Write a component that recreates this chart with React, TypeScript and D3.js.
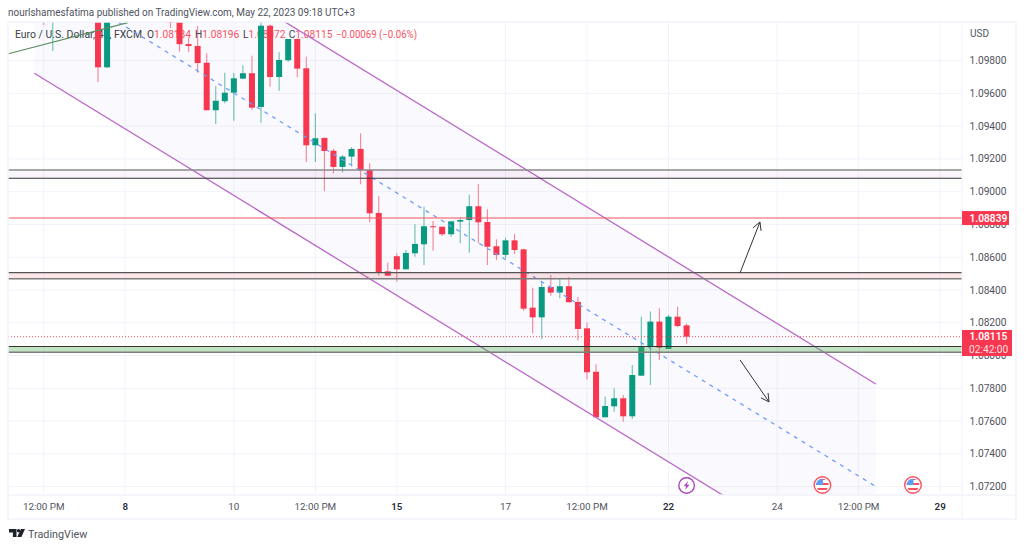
import * as d3 from "d3";

// 4h candles. Bars 2-13 sit mostly above the visible pane.
const opens = [
  1.10139, 1.10109, 1.102, 1.1031, 1.1036, 1.1028, 1.103, 1.09759, 1.1028, 1.1021, 1.1033, 1.1029,
  1.1019, 1.1026, 1.1022, 1.103, 1.09901, 1.09889, 1.09787, 1.09497, 1.09552, 1.09604, 1.0969, 1.09723,
  1.09517, 1.10013, 1.097, 1.09802, 1.09932, 1.09753, 1.09283, 1.09328, 1.0925, 1.09151, 1.09214, 1.09261,
  1.09132, 1.0887, 1.08514, 1.08606, 1.08526, 1.08624, 1.08679, 1.08789, 1.08786, 1.0874, 1.08817, 1.08827,
  1.08911, 1.08815, 1.08667, 1.08614, 1.08703, 1.08648, 1.08292, 1.08233, 1.08418, 1.08384, 1.08423, 1.08327,
  1.08166, 1.07901, 1.07623, 1.0769, 1.07739, 1.07629, 1.07877, 1.08054, 1.08207, 1.0804, 1.08237, 1.08184,
];
const highs = [
  1.1017, 1.10231, 1.1038, 1.1042, 1.1041, 1.1036, 1.1038, 1.104, 1.1039, 1.1035, 1.1044, 1.1037,
  1.103, 1.1034, 1.1031, 1.1038, 1.09938, 1.10011, 1.09845, 1.09645, 1.09726, 1.09724, 1.09771, 1.0983,
  1.10048, 1.1002, 1.09851, 1.09932, 1.09935, 1.09824, 1.09478, 1.0933, 1.09261, 1.09224, 1.09271, 1.09356,
  1.09173, 1.08974, 1.08567, 1.08624, 1.08644, 1.08801, 1.08908, 1.08821, 1.08786, 1.08821, 1.08844, 1.08982,
  1.09047, 1.08893, 1.0871, 1.08719, 1.0874, 1.08652, 1.08414, 1.08451, 1.08492, 1.08467, 1.08479, 1.08359,
  1.08201, 1.07947, 1.07749, 1.078, 1.07759, 1.07942, 1.08237, 1.08268, 1.08288, 1.08248, 1.08298, 1.08196,
];
const lows = [
  1.10017, 1.09859, 1.1012, 1.1024, 1.1022, 1.1015, 1.0967, 1.09755, 1.1017, 1.101, 1.1025, 1.1014,
  1.1009, 1.1012, 1.09999, 1.09854, 1.09853, 1.09726, 1.09497, 1.09413, 1.0954, 1.09433, 1.09686, 1.09499,
  1.09421, 1.09641, 1.09616, 1.09792, 1.09698, 1.09181, 1.09181, 1.09002, 1.09112, 1.09118, 1.09153, 1.09045,
  1.08813, 1.08487, 1.08487, 1.08451, 1.08526, 1.08603, 1.08553, 1.0864, 1.0873, 1.08725, 1.08685, 1.08628,
  1.08685, 1.08553, 1.08583, 1.08594, 1.0862, 1.08274, 1.08136, 1.08101, 1.08365, 1.08349, 1.08325, 1.08091,
  1.07853, 1.07623, 1.07623, 1.07657, 1.07596, 1.07613, 1.07877, 1.0782, 1.07973, 1.0804, 1.08174, 1.08072,
];
const closes = [
  1.10048, 1.102, 1.1031, 1.1036, 1.1028, 1.103, 1.09759, 1.1028, 1.1021, 1.1033, 1.1029, 1.1019,
  1.1026, 1.1022, 1.1003, 1.099, 1.09889, 1.09785, 1.09497, 1.09555, 1.09604, 1.09692, 1.09723, 1.09513,
  1.10013, 1.097, 1.09804, 1.09932, 1.09751, 1.09283, 1.09326, 1.09248, 1.09151, 1.09214, 1.09261, 1.09132,
  1.08868, 1.0851, 1.08487, 1.08526, 1.08626, 1.08681, 1.08789, 1.08785, 1.0874, 1.08819, 1.08827, 1.08911,
  1.08813, 1.08664, 1.08614, 1.08703, 1.08644, 1.08286, 1.08233, 1.08418, 1.08384, 1.08423, 1.08325, 1.08162,
  1.07898, 1.07623, 1.07692, 1.07739, 1.07629, 1.07881, 1.08058, 1.08207, 1.08048, 1.08237, 1.0818, 1.08115,
];

// axis ticks
const priceTicks = [1.098, 1.096, 1.094, 1.092, 1.09, 1.088, 1.086, 1.084, 1.082, 1.08, 1.078, 1.076, 1.074, 1.072];
const timeTickBars = [0, 9, 21, 30, 39, 51, 60, 69, 81, 90, 99];
const timeTickLabels = ["12:00 PM", "8", "10", "12:00 PM", "15", "17", "12:00 PM", "22", "24", "12:00 PM", "29"];
const boldTimeTicks = ["8", "15", "22", "29"];

// legend
const ohlcLetters = ["O", "H", "L", "C"];
const ohlcValues = ["1.08184", "1.08196", "1.08072", "1.08115"];
const ohlcLetterX = [147, 195, 243, 288.7];

// drawings on the chart, as [bar, price]
const channelUpper: [number, number][] = [[-1.04, 1.10974], [91.9, 1.07826]];
const channelLower: [number, number][] = [[-1.04, 1.09723], [91.9, 1.06575]];
const channelMiddle: [number, number][] = [[-1.04, 1.103485], [91.9, 1.072005]];
const greenTrend: [number, number][] = [[-3.9, 1.09842], [9.3, 1.10032]];
const boxTops = [1.09132, 1.08506, 1.08055];
const boxBottoms = [1.09082, 1.08469, 1.0802];
const boxFills = ["rgba(156,39,176,0.05)", "rgba(242,54,69,0.12)", "rgba(76,175,80,0.34)"];
const boxTopStrokes = ["#8a8a8a", "#555", "#333"];
const boxBottomStrokes = ["#333", "#7d7d7d", "#7d7d7d"];
const boxTopWidths = [1.6, 1.2, 1.1];
const boxBottomWidths = [1.1, 1.6, 1.6];
const arrowUp: [number, number][] = [[76.9, 1.08504], [79.1, 1.08815]];
const arrowDown: [number, number][] = [[76.9, 1.07973], [80.1, 1.07717]];
const lastPrice = 1.08115;
const targetPrice = 1.08839;
const flagBars = [86, 96];
const boltBar = 71;

const RED = "#f7374f";
const GREEN = "#089981";
const FONT = "Roboto, sans-serif";

const paneLeft = 8;
const paneRight = 962;
const paneTop = 22;
const paneBottom = 495;

const x = d3.scaleLinear().domain([0, 71]).range([43.7, 686.6]);
const y = d3.scaleLinear().domain([1.072, 1.098]).range([486.6, 60.6]);
const line = d3.line<[number, number]>().x((d) => x(d[0])).y((d) => y(d[1]));

const arrowHead = (pts: [number, number][]) => {
  const x1 = x(pts[0][0]), y1 = y(pts[0][1]), x2 = x(pts[1][0]), y2 = y(pts[1][1]);
  const a = Math.atan2(y2 - y1, x2 - x1);
  const s = 9;
  const p = (t: number) => `${x2 + s * Math.cos(a + t)},${y2 + s * Math.sin(a + t)}`;
  return `M${p(Math.PI - 0.5)}L${x2},${y2}L${p(Math.PI + 0.5)}`;
};

const Flag = ({ bar }: { bar: number }) => (
  <g transform={`translate(${x(bar)},485)`}>
    <circle r={8.3} fill="#fff" stroke="#f7525f" strokeWidth={1.4} />
    <clipPath id={`flag${bar}`}><circle r={6.3} /></clipPath>
    <g clipPath={`url(#flag${bar})`}>
      <rect x={-7} y={-2} width={14} height={2} fill="#f7525f" />
      <rect x={-7} y={3} width={14} height={2} fill="#f7525f" />
      <rect x={-7} y={-7} width={14} height={2} fill="#f7525f" />
      <rect x={-7} y={-7} width={7.5} height={7} fill="#5b9cf6" />
    </g>
  </g>
);

export default function App() {
  const channelFill = line([channelUpper[0], channelUpper[1], channelLower[1], channelLower[0]]) + "Z";
  return (
    <svg width={1024} height={548} style={{ position: "absolute", left: 0, top: 0, background: "#fff" }} fontFamily={FONT}>
      <defs>
        <clipPath id="pane"><rect x={paneLeft} y={paneTop} width={paneRight - paneLeft} height={paneBottom - paneTop} /></clipPath>
      </defs>

      <text x={8} y={15.5} fontSize={10.6} fill="#50535e" textLength={347} lengthAdjust="spacingAndGlyphs">
        nourlshamesfatima published on TradingView.com, May 22, 2023 09:18 UTC+3
      </text>

      {/* grid */}
      <g stroke="#f0f3fa">
        {priceTicks.map((t) => <line key={t} x1={paneLeft} x2={paneRight} y1={y(t)} y2={y(t)} />)}
        {timeTickBars.map((b) => <line key={b} x1={x(b)} x2={x(b)} y1={paneTop} y2={paneBottom} />)}
      </g>

      <g clipPath="url(#pane)">
        <path d={channelFill} fill="rgba(103,58,183,0.03)" />
      </g>

      {/* legend sits under the candles */}
      <g fontSize={10.2} fill="#3b3e48">
        <text x={15} y={37.5} textLength={127} lengthAdjust="spacingAndGlyphs">Euro / U.S. Dollar, 4h, FXCM</text>
        {ohlcLetters.map((l, i) => (
          <text key={l} x={ohlcLetterX[i]} y={37.5}>
            {l}<tspan fill="#f7525f">{ohlcValues[i]}</tspan>
          </text>
        ))}
        <text x={336} y={37.5} fill="#f7525f" textLength={81} lengthAdjust="spacingAndGlyphs">−0.00069 (−0.06%)</text>
      </g>

      <g clipPath="url(#pane)">
        {/* candles */}
        {opens.map((o, i) => {
          const c = closes[i];
          const col = c >= o ? GREEN : RED;
          const top = y(Math.max(o, c));
          const bottom = y(Math.min(o, c));
          return (
            <g key={i}>
              <line x1={x(i)} x2={x(i)} y1={y(highs[i])} y2={y(lows[i])} stroke={col} strokeOpacity={0.6} strokeWidth={1.1} />
              <rect x={x(i) - 3} width={6} y={top} height={Math.max(bottom - top, 1)} fill={col} />
            </g>
          );
        })}

        {/* drawings */}
        <path d={line(greenTrend)!} stroke="#5a8f5e" strokeWidth={1.2} fill="none" />
        <path d={line(channelUpper)!} stroke="#ba68c8" strokeWidth={1.3} fill="none" />
        <path d={line(channelLower)!} stroke="#ba68c8" strokeWidth={1.3} fill="none" />
        <path d={line(channelMiddle)!} stroke="#6f9df9" strokeWidth={1.3} strokeDasharray="4 5" fill="none" />

        {boxTops.map((t, i) => (
          <g key={t}>
            <rect x={paneLeft} width={paneRight - paneLeft} y={y(t)} height={y(boxBottoms[i]) - y(t)} fill={boxFills[i]} />
            <line x1={paneLeft} x2={paneRight} y1={y(t)} y2={y(t)} stroke={boxTopStrokes[i]} strokeWidth={boxTopWidths[i]} />
            <line x1={paneLeft} x2={paneRight} y1={y(boxBottoms[i])} y2={y(boxBottoms[i])} stroke={boxBottomStrokes[i]} strokeWidth={boxBottomWidths[i]} />
          </g>
        ))}

        <line x1={paneLeft} x2={paneRight} y1={y(targetPrice)} y2={y(targetPrice)} stroke="#f7525f" strokeWidth={1.1} />
        <line x1={paneLeft} x2={paneRight} y1={y(lastPrice)} y2={y(lastPrice)} stroke="#f7525f" strokeDasharray="1 2" />

        {[arrowUp, arrowDown].map((a, i) => (
          <g key={i} stroke="#333" strokeWidth={1} fill="none">
            <path d={line(a)!} />
            <path d={arrowHead(a)} />
          </g>
        ))}

        {/* event marks */}
        <g transform={`translate(${x(boltBar)},485.5)`}>
          <circle r={7.8} fill="#fff" stroke="#ab47bc" strokeWidth={1.4} />
          <path d="M1.5,-4.5 L-3,0.8 L-0.4,0.8 L-1.5,4.5 L3,-0.8 L0.4,-0.8 Z" fill="#ab47bc" />
        </g>
        {flagBars.map((b) => <Flag key={b} bar={b} />)}
      </g>

      {/* frame */}
      <g stroke="#f0f3fa" strokeWidth={1.5} fill="none">
        <rect x={paneLeft} y={paneTop} width={1016 - paneLeft} height={519 - paneTop} />
        <line x1={paneRight} x2={paneRight} y1={paneTop} y2={519} strokeWidth={1} />
        <line x1={paneLeft} x2={1016} y1={paneBottom} y2={paneBottom} />
      </g>

      {/* price axis */}
      <text x={970} y={37} fontSize={10} fill="#50535e">USD</text>
      {priceTicks.map((t) => (
        <text key={t} x={969.5} y={y(t)} dy="0.35em" fontSize={10.2} fill="#50535e">{t.toFixed(5)}</text>
      ))}
      <rect x={962} y={y(targetPrice) - 7} width={47} height={14} fill={RED} />
      <text x={969.5} y={y(targetPrice)} dy="0.35em" fontSize={10.2} fontWeight={600} fill="#fff">{targetPrice.toFixed(5)}</text>
      <rect x={962} y={330} width={50} height={26} fill={RED} />
      <text x={969.5} y={y(lastPrice)} dy="0.35em" fontSize={10.2} fontWeight={600} fill="#fff">{lastPrice.toFixed(5)}</text>
      <text x={969} y={349} dy="0.35em" fontSize={10.2} fill="#fff" fillOpacity={0.85}>02:42:00</text>

      {/* time axis */}
      {timeTickBars.map((b, i) => (
        <text
          key={b}
          x={x(b)}
          y={507}
          dy="0.35em"
          textAnchor="middle"
          fontSize={9.8}
          fontWeight={boldTimeTicks.includes(timeTickLabels[i]) ? 600 : 400}
          fill={boldTimeTicks.includes(timeTickLabels[i]) ? "#2a2e39" : "#50535e"}
        >
          {timeTickLabels[i]}
        </text>
      ))}

      {/* logo */}
      <g fill="#1e222d">
        <path d="M9,529h7.5v8h-3.6v-4.4H9z" />
        <circle cx={18.6} cy={530.8} r={1.8} />
        <path d="M21,529h4l-3.6,8h-4.2z" />
      </g>
      <text x={28} y={537.5} fontSize={10.8} fill="#50535e">TradingView</text>
    </svg>
  );
}
